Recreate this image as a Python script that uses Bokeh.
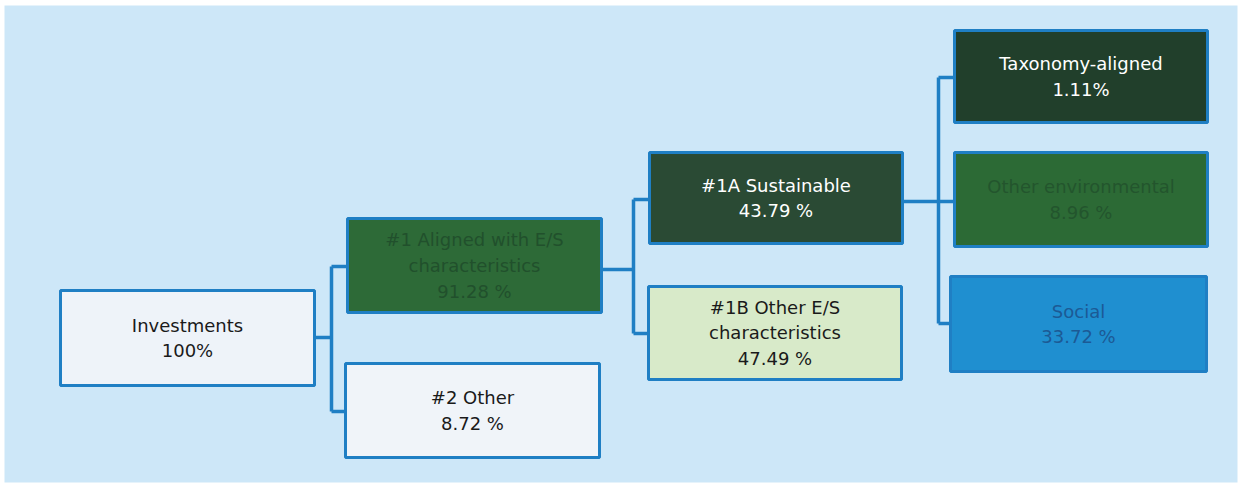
from bokeh.plotting import figure
from bokeh.models import Range1d, ColumnDataSource
from bokeh.core.properties import value
from bokeh.embed import file_html
from bokeh.resources import INLINE

# ---- data ----
node_names = ["Investments", "#1 Aligned with E/S\ncharacteristics", "#2 Other",
              "#1A Sustainable", "#1B Other E/S\ncharacteristics",
              "Taxonomy-aligned", "Other environmental", "Social"]
node_values = ["100%", "91.28 %", "8.72 %", "43.79 %", "47.49 %", "1.11%", "8.96 %", "33.72 %"]
node_parents = [None, 0, 0, 1, 1, 3, 3, 3]

# ---- layout (reference pixel coordinates) ----
box_left = [60, 347, 345, 649, 648, 954, 954, 950]
box_right = [314, 601, 599, 902, 901, 1207, 1207, 1206]
box_top = [290, 218, 363, 152, 286, 30, 152, 276]
box_bottom = [385, 312, 457, 243, 379, 122, 246, 371]
fills = ["#eef3f9", "#2d6a37", "#f0f4f9", "#2a4a34", "#d8eac9", "#213f2b", "#2c6a35", "#1f8fd0"]
text_colors = ["#1a1a1a", "#21502c", "#1a1a1a", "#ffffff", "#1a1a1a", "#ffffff", "#23552d", "#1c5a95"]
trunk_x = {0: 331, 1: 633, 3: 938}
out_y = {0: 337, 1: 269, 3: 201}
in_y = [None, 266, 411, 199, 333, 77, 201, 323]

BG = "#cde7f8"
LINE = "#1f7fc4"

p = figure(width=1240, height=488, output_backend="svg", toolbar_location=None,
           x_range=Range1d(0, 1240), y_range=Range1d(488, 0), min_border=0)
p.axis.visible = False
p.grid.visible = False
p.outline_line_color = None
p.background_fill_color = "#ffffff"
p.border_fill_color = "#ffffff"

p.quad(left=[4], right=[1237], top=[5], bottom=[482], fill_color=BG, line_color=None)

# connectors
for parent, tx in trunk_x.items():
    kids = [i for i, pp in enumerate(node_parents) if pp == parent]
    ys = [in_y[k] for k in kids] + [out_y[parent]]
    p.line([box_right[parent], tx], [out_y[parent], out_y[parent]], line_color=LINE, line_width=3.5)
    p.line([tx, tx], [min(ys), max(ys)], line_color=LINE, line_width=3.5)
    for k in kids:
        p.line([tx, box_left[k]], [in_y[k], in_y[k]], line_color=LINE, line_width=3.5)

src = ColumnDataSource(dict(
    left=box_left, right=box_right, top=box_top, bottom=box_bottom, fill=fills,
))
p.quad(left="left", right="right", top="top", bottom="bottom", source=src,
       fill_color="fill", line_color=LINE, line_width=3)

labels = [n + "\n" + v for n, v in zip(node_names, node_values)]
cx = [(l + r) / 2 for l, r in zip(box_left, box_right)]
cy = [(t + b) / 2 for t, b in zip(box_top, box_bottom)]
tsrc = ColumnDataSource(dict(x=cx, y=cy, text=labels, color=text_colors))
p.text(x="x", y="y", text="text", source=tsrc, text_color="color",
       text_align="center", text_baseline="middle", text_font=value("DejaVu Sans"),
       text_font_size="18px", text_line_height=1.22)

open("out.html", "w").write(file_html(p, INLINE))
